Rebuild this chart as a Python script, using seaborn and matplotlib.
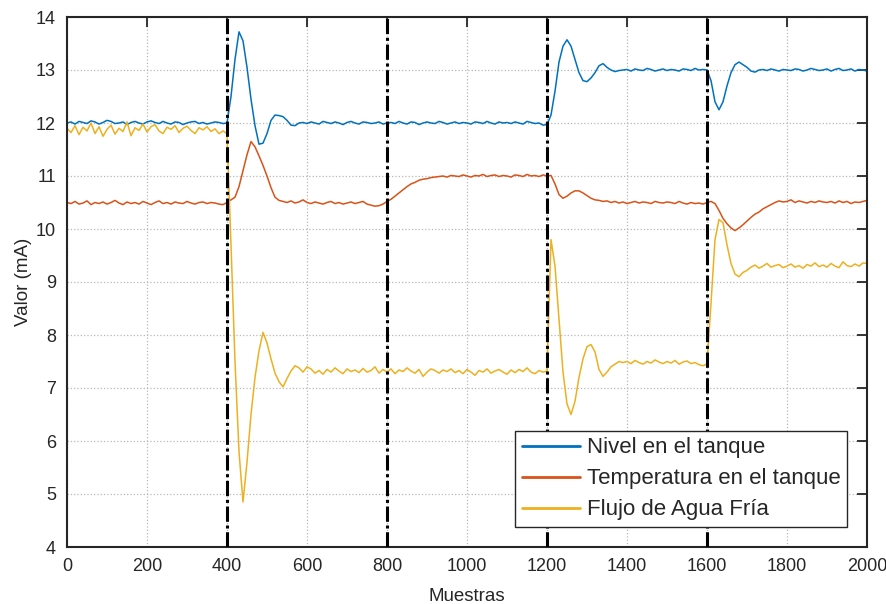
import matplotlib
matplotlib.use("Agg")
import matplotlib.pyplot as plt
import pandas as pd
import seaborn as sns

# Muestras cada 10 (0..2000)
muestras = list(range(0, 2001, 10))

nivel = [
    12.00, 12.02, 11.98, 12.03, 12.01, 11.99, 12.04, 12.02, 11.98, 12.01,
    12.05, 12.03, 11.99, 12.00, 12.02, 11.97, 12.01, 12.03, 12.00, 11.98,
    12.02, 12.04, 12.01, 11.99, 12.03, 12.00, 11.98, 12.02, 12.01, 11.97,
    12.00, 12.02, 12.03, 11.99, 12.01, 11.98, 12.00, 12.02, 12.01, 11.99,
    12.00, 12.50, 13.20, 13.72, 13.55, 13.05, 12.45, 11.95, 11.60, 11.62,
    11.80, 12.05, 12.15, 12.14, 12.12, 12.05, 11.96, 11.95, 12.00, 12.01,
    11.99, 12.02, 12.00, 11.98, 12.03, 12.01, 11.99, 12.02, 12.00, 11.97,
    12.01, 12.03, 12.00, 11.98, 12.02, 12.01, 11.99, 12.00, 12.02, 11.98,
    12.00, 12.01, 11.99, 12.03, 12.00, 11.98, 12.02, 12.01, 11.97, 12.00,
    12.02, 12.00, 11.99, 12.03, 12.01, 11.98, 12.00, 12.02, 11.99, 12.01,
    12.00, 11.98, 12.02, 12.01, 11.99, 12.03, 12.00, 11.98, 12.02, 12.00,
    12.01, 11.99, 12.02, 12.00, 11.98, 12.03, 12.01, 11.99, 12.00, 11.96,
    11.97, 12.15, 12.60, 13.15, 13.45, 13.57, 13.45, 13.20, 12.95, 12.80,
    12.78, 12.85, 12.95, 13.08, 13.12, 13.05, 13.00, 12.97, 12.99, 13.00,
    13.01, 12.98, 13.02, 13.00, 12.99, 13.03, 13.01, 12.98, 13.00, 13.02,
    12.99, 13.01, 13.00, 12.98, 13.02, 13.01, 12.99, 13.03, 13.00, 13.01,
    13.00, 12.80, 12.40, 12.25, 12.40, 12.70, 12.95, 13.10, 13.15, 13.10,
    13.05, 12.98, 12.96, 13.00, 13.01, 12.99, 13.02, 13.00, 12.98, 13.01,
    13.00, 12.99, 13.02, 13.01, 12.98, 13.00, 13.03, 13.01, 12.99, 13.00,
    13.02, 12.98, 13.01, 13.03, 12.99, 13.00, 13.02, 12.98, 13.01, 13.00,
    12.98,
]

temperatura = [
    10.50, 10.48, 10.52, 10.47, 10.49, 10.53, 10.46, 10.50, 10.48, 10.51,
    10.47, 10.50, 10.54, 10.49, 10.46, 10.51, 10.48, 10.50, 10.47, 10.52,
    10.49, 10.46, 10.50, 10.53, 10.48, 10.50, 10.47, 10.51, 10.49, 10.48,
    10.52, 10.49, 10.47, 10.50, 10.51, 10.48, 10.50, 10.49, 10.47, 10.46,
    10.50, 10.55, 10.60, 10.80, 11.10, 11.40, 11.65, 11.55, 11.38, 11.20,
    11.00, 10.78, 10.60, 10.54, 10.52, 10.50, 10.53, 10.49, 10.51, 10.55,
    10.50, 10.48, 10.51, 10.49, 10.47, 10.50, 10.52, 10.48, 10.50, 10.47,
    10.49, 10.51, 10.48, 10.50, 10.52, 10.47, 10.45, 10.43, 10.44, 10.47,
    10.52, 10.56, 10.62, 10.68, 10.74, 10.80, 10.85, 10.88, 10.92, 10.94,
    10.95, 10.97, 10.98, 10.99, 11.00, 10.98, 11.01, 11.00, 10.99, 11.02,
    11.00, 10.98, 11.01, 11.00, 11.03, 10.99, 11.01, 11.02, 10.99, 11.01,
    11.00, 10.98, 11.02, 11.01, 10.99, 11.03, 11.00, 11.01, 10.99, 11.02,
    11.00, 11.01, 10.85, 10.65, 10.58, 10.62, 10.68, 10.72, 10.72, 10.68,
    10.63, 10.58, 10.55, 10.54, 10.52, 10.53, 10.50, 10.52, 10.49, 10.51,
    10.48, 10.50, 10.52, 10.49, 10.51, 10.50, 10.48, 10.52, 10.50, 10.49,
    10.51, 10.50, 10.48, 10.52, 10.49, 10.47, 10.50, 10.48, 10.49, 10.47,
    10.50, 10.52, 10.48, 10.35, 10.20, 10.10, 10.02, 9.97, 10.02, 10.08,
    10.15, 10.22, 10.28, 10.32, 10.38, 10.42, 10.46, 10.50, 10.53, 10.51,
    10.52, 10.55, 10.50, 10.53, 10.51, 10.49, 10.52, 10.50, 10.53, 10.51,
    10.50, 10.52, 10.49, 10.53, 10.50, 10.52, 10.48, 10.51, 10.50, 10.52,
    10.54,
]

flujo = [
    11.90, 11.82, 11.95, 11.78, 11.92, 11.85, 12.00, 11.80, 11.93, 11.75,
    11.88, 11.96, 11.79, 11.90, 11.84, 12.02, 11.76, 11.91, 11.86, 11.98,
    11.83, 11.93, 11.97, 11.85, 11.80, 11.92, 11.88, 11.95, 11.82, 11.90,
    11.94, 11.86, 11.80, 11.91, 11.87, 11.93, 11.84, 11.89, 11.80, 11.85,
    11.80, 9.70, 7.50, 5.80, 4.85, 5.60, 6.50, 7.20, 7.70, 8.05,
    7.85, 7.55, 7.28, 7.12, 7.02, 7.18, 7.32, 7.42, 7.38, 7.30,
    7.40, 7.36, 7.28, 7.33, 7.26, 7.35, 7.30, 7.38, 7.32, 7.27,
    7.36, 7.31, 7.34, 7.29, 7.37, 7.30, 7.33, 7.40, 7.28, 7.35,
    7.30, 7.36, 7.27, 7.34, 7.31, 7.38, 7.32, 7.28, 7.35, 7.22,
    7.30, 7.36, 7.33, 7.28, 7.34, 7.31, 7.36, 7.29, 7.33, 7.27,
    7.35, 7.30, 7.24, 7.33, 7.30, 7.36, 7.28, 7.32, 7.35, 7.30,
    7.26, 7.34, 7.29, 7.35, 7.31, 7.38, 7.30, 7.27, 7.33, 7.30,
    7.32, 9.80, 9.30, 8.30, 7.30, 6.70, 6.50, 6.75, 7.20, 7.55,
    7.78, 7.82, 7.68, 7.35, 7.22, 7.30, 7.40, 7.45, 7.50, 7.48,
    7.50, 7.46, 7.52, 7.48, 7.45, 7.50, 7.47, 7.53, 7.49, 7.46,
    7.50, 7.47, 7.52, 7.45, 7.49, 7.51, 7.46, 7.48, 7.44, 7.42,
    7.45, 8.60, 9.80, 10.18, 10.12, 9.70, 9.35, 9.15, 9.10, 9.18,
    9.22, 9.28, 9.32, 9.26, 9.30, 9.35, 9.28, 9.31, 9.33, 9.27,
    9.30, 9.34, 9.28, 9.31, 9.26, 9.33, 9.30, 9.36, 9.29, 9.32,
    9.28, 9.35, 9.30, 9.27, 9.38, 9.31, 9.29, 9.34, 9.30, 9.36,
    9.35,
]

series = ['Nivel en el tanque', 'Temperatura en el tanque', 'Flujo de Agua Fría']
colores = ['#0072BD', '#D95319', '#EDB120']
cambios = [400, 800, 1200, 1600]

df = pd.concat([
    pd.DataFrame({'Muestras': muestras, 'Valor': v, 'Serie': s})
    for s, v in zip(series, [nivel, temperatura, flujo])
])

sns.set_style('white')
plt.rcParams['font.family'] = ['Liberation Sans', 'DejaVu Sans']

fig = plt.figure(figsize=(8.87, 6.04), dpi=100)
ax = fig.add_axes([67 / 887, 1 - 547 / 604, 800 / 887, 530 / 604])

sns.lineplot(data=df, x='Muestras', y='Valor', hue='Serie', hue_order=series,
             palette=colores, estimator=None, sort=False, linewidth=1.1, ax=ax)

for c in cambios:
    ax.axvline(c, color='black', linewidth=2.2, linestyle=(0, (5, 1.2, 1, 1.2)), zorder=5)

ax.set_xlim(0, 2000)
ax.set_ylim(4, 14)
ax.set_xticks(range(0, 2001, 200))
ax.set_yticks(range(4, 15))
ax.grid(True, color='#b8b8b8', linestyle=':', linewidth=0.9)
ax.tick_params(direction='in', length=7, width=1.3, top=True, right=True,
               labelsize=13, colors='#262626', pad=8)
for sp in ax.spines.values():
    sp.set_color('#262626')
    sp.set_linewidth(1.5)

ax.set_xlabel('Muestras', fontsize=13.5, color='#262626', labelpad=9)
ax.set_ylabel('Valor (mA)', fontsize=13.5, color='#262626', labelpad=3)

leg = ax.legend(loc='lower right', fontsize=16, frameon=True, fancybox=False,
                edgecolor='#262626', framealpha=1, handlelength=2.6,
                handletextpad=0.3, borderpad=0.3, labelspacing=0.45,
                borderaxespad=0.9)
leg.get_frame().set_linewidth(1.0)
for line in leg.get_lines():
    line.set_linewidth(2.0)

fig.savefig('out.png', dpi=100)
